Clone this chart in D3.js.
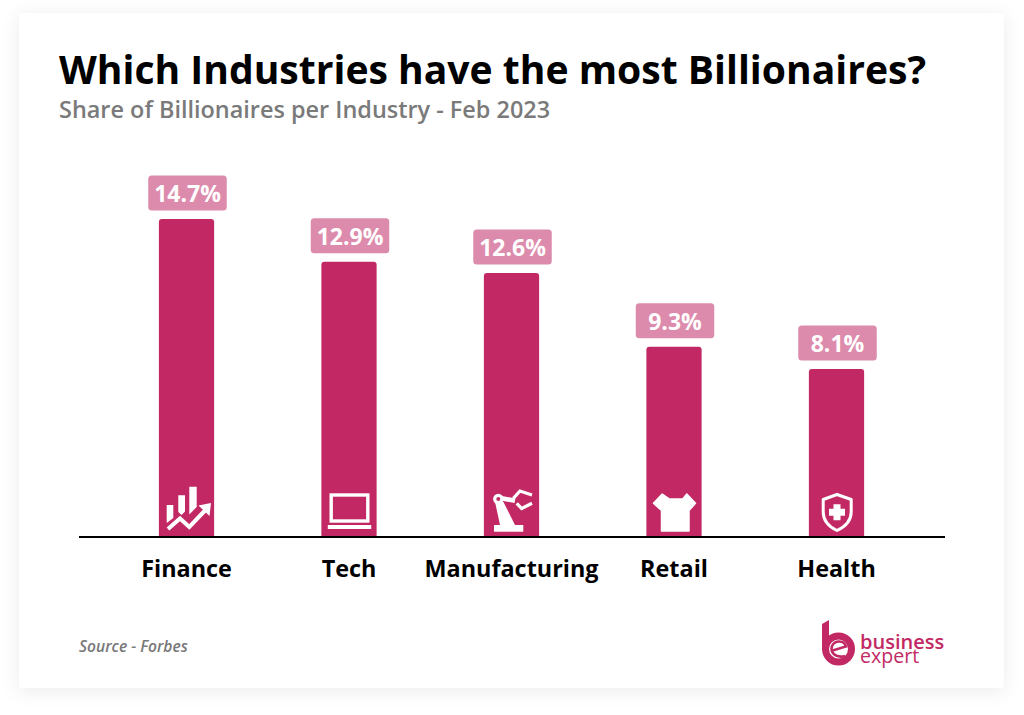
<!DOCTYPE html>
<html>
<head>
<meta charset="utf-8">
<script src="https://cdn.jsdelivr.net/npm/d3@7"></script>
<style>
  html, body { margin: 0; padding: 0; background: #fff; }
  svg { display: block; }
  text { font-family: "Open Sans", sans-serif; }
</style>
</head>
<body>
<div id="chart"></div>
<script>
const industries = ['Finance', 'Tech', 'Manufacturing', 'Retail', 'Health']
const shareLabels = ['14.7%', '12.9%', '12.6%', '9.3%', '8.1%']
// the bars in the picture are not quite in proportion to their labels,
// so these are the lengths, in the same units
const barLengths = [14.7, 12.72, 12.2, 8.8, 7.77]
const iconNames = ['finance', 'tech', 'manufacturing', 'retail', 'health']

const PINK = '#c22964'
const PALE = '#dd8bac'

const svg = d3.select('#chart').append('svg')
  .attr('width', 1024)
  .attr('height', 715)

const defs = svg.append('defs')
const shadow = defs.append('filter')
  .attr('id', 'card-shadow')
  .attr('x', '-10%').attr('y', '-10%')
  .attr('width', '120%').attr('height', '120%')
shadow.append('feDropShadow')
  .attr('dx', 0).attr('dy', 3)
  .attr('stdDeviation', 9)
  .attr('flood-color', '#000')
  .attr('flood-opacity', 0.08)

svg.append('rect')
  .attr('x', 19).attr('y', 13)
  .attr('width', 985).attr('height', 675)
  .attr('rx', 3)
  .attr('fill', '#fff')
  .attr('filter', 'url(#card-shadow)')

svg.append('text')
  .attr('x', 59).attr('y', 84)
  .attr('font-size', 39.1)
  .attr('font-weight', 700)
  .attr('fill', '#000')
  .text('Which Industries have the most Billionaires?')

svg.append('text')
  .attr('x', 59).attr('y', 118)
  .attr('font-size', 23.45)
  .attr('font-weight', 600)
  .attr('fill', '#7a7a7a')
  .text('Share of Billionaires per Industry - Feb 2023')

const baseline = 537

const x = d3.scaleBand()
  .domain(industries)
  .range([105.25, 917.75])
  .paddingInner(0.66)
  .paddingOuter(0.33)

const y = d3.scaleLinear()
  .domain([0, 14.7])
  .range([baseline, 219])

const bars = svg.append('g').attr('class', 'bars')

bars.selectAll('path')
  .data(industries)
  .join('path')
  .attr('fill', PINK)
  .attr('d', (d, i) => {
    const x0 = x(d)
    const x1 = x0 + x.bandwidth()
    const top = y(barLengths[i])
    const r = 3
    return `M${x0},${baseline}V${top + r}Q${x0},${top} ${x0 + r},${top}H${x1 - r}Q${x1},${top} ${x1},${top + r}V${baseline}Z`
  })

const pills = svg.append('g').attr('class', 'pills')
  .selectAll('g')
  .data(industries)
  .join('g')
  .attr('transform', (d, i) => `translate(${x(d) + x.bandwidth() / 2 + 1},${y(barLengths[i]) - 8.5})`)

pills.append('rect')
  .attr('x', -39.25)
  .attr('y', -35)
  .attr('width', 78.5)
  .attr('height', 35)
  .attr('rx', 3.5)
  .attr('fill', PALE)

pills.append('text')
  .attr('y', -8.5)
  .attr('text-anchor', 'middle')
  .attr('font-size', 23)
  .attr('font-weight', 700)
  .attr('fill', '#fff')
  .text((d, i) => shareLabels[i])

const axis = svg.append('g')
  .attr('class', 'axis')
  .attr('transform', `translate(0,${baseline})`)
  .call(d3.axisBottom(x).tickSize(0).tickPadding(23))

axis.select('.domain').remove()
axis.append('line')
  .attr('x1', 79).attr('x2', 945)
  .attr('stroke', '#000')
  .attr('stroke-width', 2)

axis.selectAll('.tick text')
  .style('font-family', '"Open Sans", sans-serif')
  .attr('font-size', 23.4)
  .attr('font-weight', 700)
  .attr('fill', '#000')

// icons are drawn around the bar centre, 0,0 being on the baseline
function drawFinance (g) {
  g.append('path').attr('fill', '#fff')
    .attr('d', 'M-19.8,-32H-13.2V-19L-19.8,-14Z M-8.2,-41.7H-1.5V-25.5L-5,-22L-8.2,-25Z M2.8,-50.3H10.2V-30L2.8,-22.5Z')
  g.append('path').attr('fill', 'none').attr('stroke', '#fff').attr('stroke-width', 4)
    .attr('d', 'M-18.5,-8L-6.5,-18.5L2.8,-10L19,-27')
  g.append('path').attr('fill', '#fff').attr('d', 'M12,-31.5L24.5,-34L23,-21Z')
}

function drawTech (g) {
  g.append('rect').attr('x', -17.8).attr('y', -42).attr('width', 36.6).attr('height', 26)
    .attr('fill', 'none').attr('stroke', '#fff').attr('stroke-width', 3.4)
  g.append('rect').attr('x', -21.2).attr('y', -12).attr('width', 43.4).attr('height', 4).attr('fill', '#fff')
}

function drawManufacturing (g) {
  g.append('path').attr('fill', '#fff')
    .attr('d', 'M-16.5,-35.3L-8.2,-35.3L3.5,-12H-11.5Z')
  g.append('rect').attr('x', -17.5).attr('y', -12).attr('width', 29.3).attr('height', 6.7).attr('fill', '#fff')
  g.append('path').attr('fill', 'none').attr('stroke', '#fff').attr('stroke-width', 4.6)
    .attr('d', 'M-10,-38.7L3.5,-36.3')
  g.append('circle').attr('cx', -13.2).attr('cy', -38).attr('r', 3.6).attr('fill', PINK)
    .attr('stroke', '#fff').attr('stroke-width', 3.2)
  g.append('path').attr('fill', 'none').attr('stroke', '#fff').attr('stroke-width', 3.2)
    .attr('d', 'M1.8,-38.7L8.5,-46L20.5,-42 M5.2,-33.7L10.2,-28.5L20.5,-33.7')
}

function drawRetail (g) {
  g.append('path').attr('fill', '#fff').attr('stroke', '#fff').attr('stroke-width', 1.5).attr('stroke-linejoin', 'round')
    .attr('d', 'M-11.8,-43L-4.5,-38H8.8L12.8,-43L21.5,-33.7L15,-26.5V-6H-12.5V-26.5L-20.5,-33.7Z')
}

function drawHealth (g) {
  g.append('path').attr('fill', 'none').attr('stroke', '#fff').attr('stroke-width', 3).attr('stroke-linejoin', 'round')
    .attr('d', 'M-13.3,-37.5L0.5,-42.5L14.7,-37.5V-25C14.7,-15 8,-10 0.5,-6.5C-7,-10 -13.3,-15 -13.3,-25Z')
  g.append('path').attr('fill', '#fff')
    .attr('d', 'M-3,-32.7H4V-28.2H8.5V-21.2H4V-16.7H-3V-21.2H-7.5V-28.2H-3Z')
}

const iconDrawers = {
  finance: drawFinance,
  tech: drawTech,
  manufacturing: drawManufacturing,
  retail: drawRetail,
  health: drawHealth
}

svg.append('g').attr('class', 'icons')
  .selectAll('g')
  .data(industries)
  .join('g')
  .attr('transform', d => `translate(${x(d) + x.bandwidth() / 2},${baseline})`)
  .each(function (d, i) {
    iconDrawers[iconNames[i]](d3.select(this))
  })

svg.append('text')
  .attr('x', 79).attr('y', 652)
  .attr('font-size', 15.6)
  .attr('font-style', 'italic')
  .attr('font-weight', 600)
  .attr('fill', '#787878')
  .text('Source - Forbes')

// logo
const logo = svg.append('g').attr('class', 'logo')
logo.append('path').attr('fill', PINK)
  .attr('d', 'M822,624L829,620V650H822Z')
logo.append('circle').attr('cx', 838.5).attr('cy', 649).attr('r', 13)
  .attr('fill', '#fff').attr('stroke', PINK).attr('stroke-width', 7)
logo.append('path').attr('fill', 'none').attr('stroke', PINK).attr('stroke-width', 2.6)
  .attr('d', 'M831,651L846,646.5C844,640 835,640 832,646C830,652 835,658.5 845,656')

logo.append('text')
  .attr('x', 860).attr('y', 649)
  .attr('font-size', 20)
  .attr('font-weight', 600)
  .attr('fill', PINK)
  .text('business')

logo.append('text')
  .attr('x', 860).attr('y', 662.5)
  .attr('font-size', 19.6)
  .attr('font-weight', 400)
  .attr('fill', PINK)
  .text('expert')
</script>
</body>
</html>
